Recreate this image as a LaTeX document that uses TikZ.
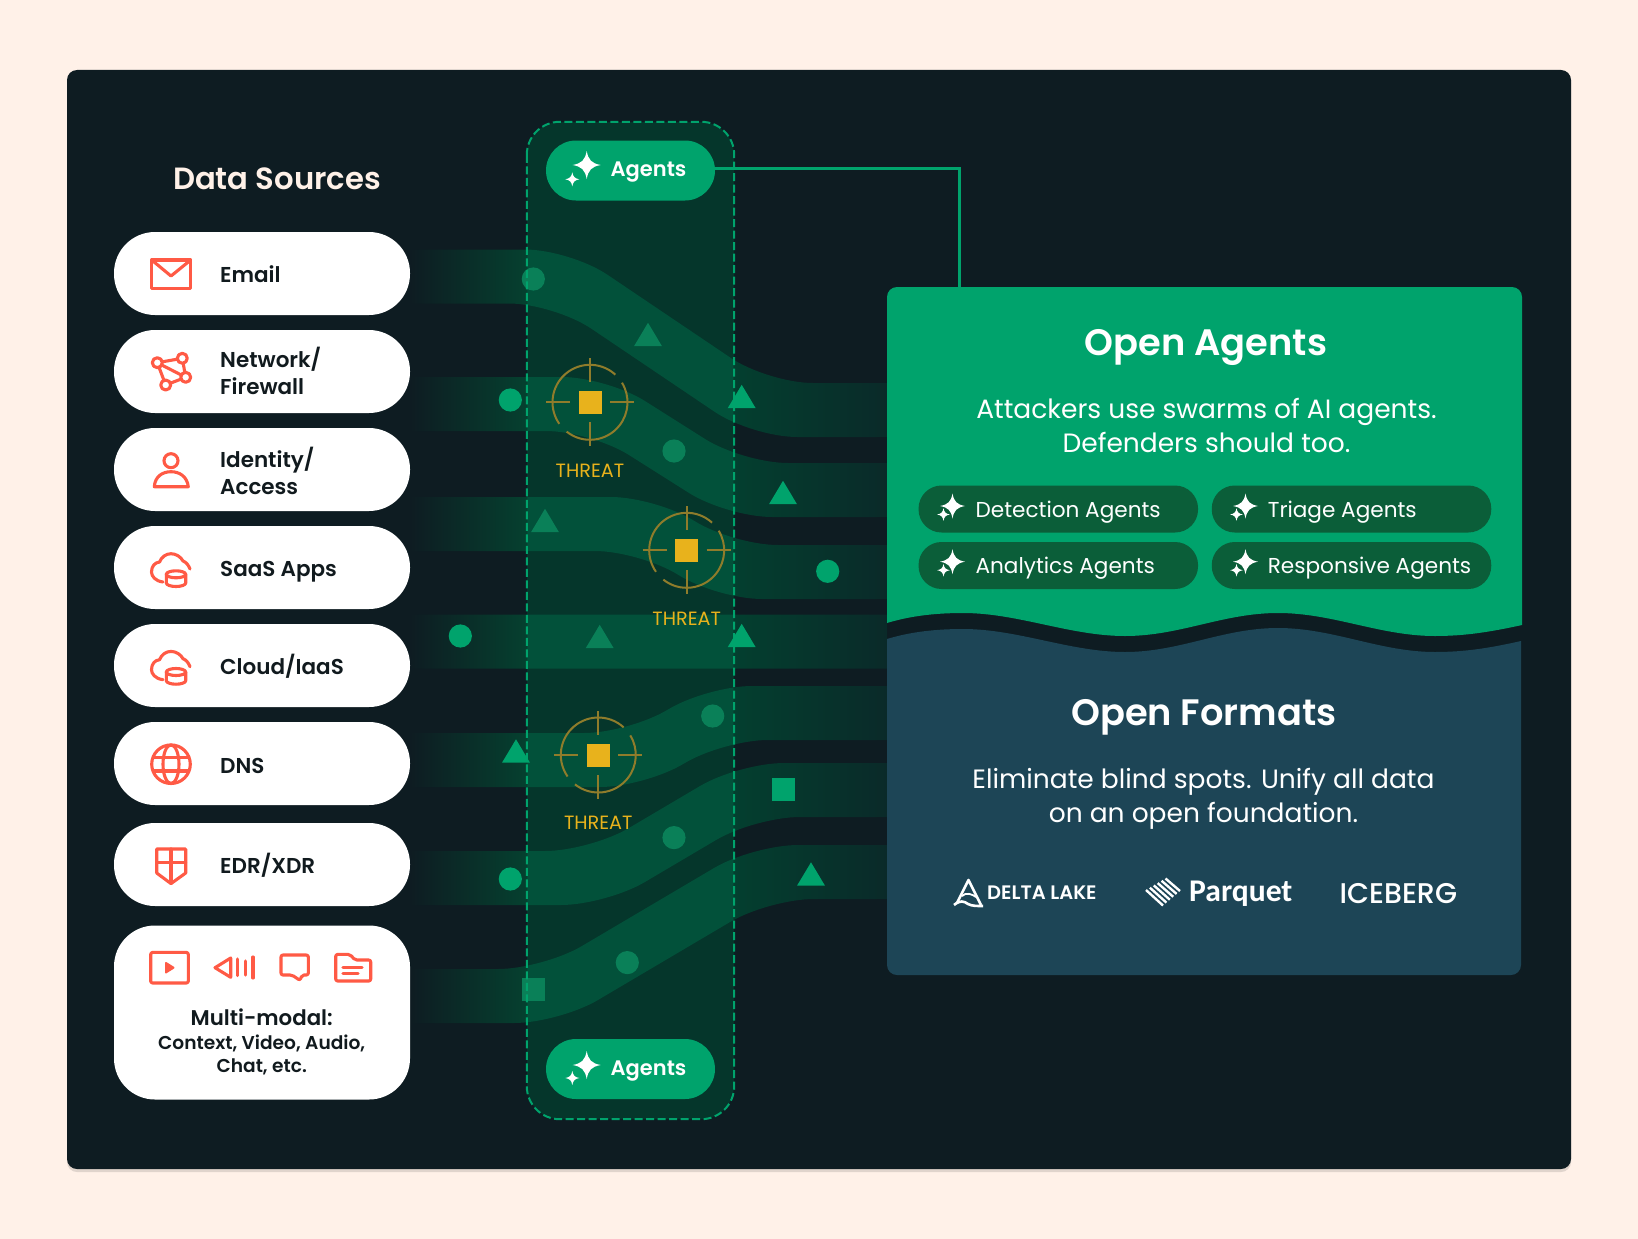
\documentclass[tikz,border=0pt]{standalone}
\usepackage{fontspec}
\usetikzlibrary{positioning,calc}
\setmainfont{Poppins}
\newfontfamily\medfont{Poppins Medium}
\newfontfamily\semifont{Poppins SemiBold}
\newfontfamily\logofont{Carlito}
\definecolor{pagebg}{HTML}{FFF1E8}
\definecolor{panelbg}{HTML}{0E1C22}
\definecolor{lanebg}{HTML}{05362B}
\definecolor{agreen}{HTML}{00A36C}
\definecolor{dimgreen}{HTML}{0A8058}
\definecolor{chipgreen}{HTML}{0B5E39}
\definecolor{deepblue}{HTML}{1D4556}
\definecolor{coral}{HTML}{FF5A45}
\definecolor{threatgold}{HTML}{E8B21C}
\definecolor{threatring}{HTML}{8F7C2B}
\definecolor{inktext}{HTML}{111A1E}
\definecolor{flowleft}{HTML}{05402F}
\definecolor{flowlane}{HTML}{02513A}
\definecolor{flowright}{HTML}{033F2F}
\definecolor{flowend}{HTML}{0A2A29}
% stops: 25bp = left end of a ribbon, 75bp = its right end
\pgfdeclarehorizontalshading{ribbonfade}{100bp}{
 color(0bp)=(panelbg); color(25bp)=(panelbg);
 color(37.2bp)=(flowleft); color(37.3bp)=(flowlane);
 color(58.8bp)=(flowlane); color(58.9bp)=(flowright);
 color(75bp)=(flowend); color(100bp)=(flowend)}
\tikzset{
 srcpill/.style={fill=white,rounded corners=41pt,minimum width=296pt,minimum height=83pt,inner sep=0pt,outer sep=0pt},
 srclabel/.style={text=inktext,align=left,inner sep=0pt,font=\semifont\fontsize{21.5}{27}\selectfont},
 agentpill/.style={fill=agreen,rounded corners=30pt,minimum width=169pt,minimum height=60pt,inner sep=0pt},
 agentchip/.style={fill=chipgreen,rounded corners=23pt,minimum width=279.5pt,minimum height=47pt,inner sep=0pt},
 chiplabel/.style={text=white,anchor=west,inner sep=0pt,font=\fontsize{21.6}{27}\selectfont},
 paneltitle/.style={text=white,inner sep=0pt,font=\semifont\fontsize{36.8}{42}\selectfont},
 panelbody/.style={text=white,align=center,inner sep=0pt,font=\fontsize{26.5}{34}\selectfont},
 threatlabel/.style={text=threatgold,inner sep=0pt,font=\fontsize{19.2}{22}\selectfont},
 threatcore/.style={fill=threatgold,minimum size=23pt,inner sep=0pt},
 iconline/.style={draw=coral,line width=3.1pt,line join=round,line cap=round},
 logoline/.style={draw=white,line width=2.6pt,line join=round},
 logotext/.style={text=white,inner sep=0pt},
 connector/.style={draw=agreen,line width=3pt}
}
% ribbon from left to right: y at the left, y at the right, start and end of the slope
\newcommand\ribbon[4]{
 \pgfmathsetmacro\ribd{#2>#1?8:(#2<#1?-8:0)}
 \shade[shading=ribbonfade,rounded corners=45pt]
  (410,{#1-27}) -- ({#3+\ribd},{#1-27}) -- ({#4+\ribd},{#2-27}) [sharp corners] -- (887,{#2-27})
  -- (887,{#2+27}) [rounded corners=45pt] -- ({#4-\ribd},{#2+27}) -- ({#3-\ribd},{#1+27}) [sharp corners] -- (410,{#1+27}) -- cycle;
}
\newcommand\dotmark[3]{\fill[#3] (#1,#2) circle[radius=11.6pt];}
\newcommand\trimark[3]{\fill[#3] (#1,{#2-11.7}) -- ({#1+14},{#2+11.7}) -- ({#1-14},{#2+11.7}) -- cycle;}
\newcommand\boxmark[3]{\fill[#3] ({#1-11.7},{#2-11.5}) rectangle ({#1+11.7},{#2+11.5});}
\newcommand\onestar[3]{\fill[white,shift={(#1,#2)},scale=#3]
 (0,-1) .. controls (.12,-.35) and (.35,-.12) .. (1,0) .. controls (.35,.12) and (.12,.35) .. (0,1)
 .. controls (-.12,.35) and (-.35,.12) .. (-1,0) .. controls (-.35,-.12) and (-.12,-.35) .. (0,-1) -- cycle;}
\newcommand\threat[4]{
 \draw[threatring,line width=2pt] (#2,#3) ++(47.5:37.5pt) arc[start angle=47.5,end angle=215,radius=37.5pt];
 \draw[threatring,line width=2pt] (#2,#3) ++(231.5:37.5pt) arc[start angle=231.5,end angle=391.5,radius=37.5pt];
 \node[threatcore] (#1) at (#2,#3) {};
 \draw[threatring,line width=2pt] ($(#1)+(-44,0)$) -- ($(#1)+(-20,0)$);
 \draw[threatring,line width=2pt] ($(#1)+(20,0)$) -- ($(#1)+(44,0)$);
 \draw[threatring,line width=2pt] ($(#1)+(0,-44)$) -- ($(#1)+(0,-20)$);
 \draw[threatring,line width=2pt] ($(#1)+(0,20)$) -- ($(#1)+(0,44)$);
 \node[threatlabel] (#1label) at (#2,#4) {THREAT};
}
\newcommand\cloudicon[1]{
 \begin{scope}[shift={(0,#1)}]
  \draw[iconline] (163,582) .. controls (155,581) and (151.5,576) .. (151.5,572) .. controls (151.5,566) and (155,562.5) .. (159.5,562)
   .. controls (161.5,557) and (166,553.7) .. (171,553.7) .. controls (176,553.7) and (181,557) .. (183,561) .. controls (186,562) and (188.5,565) .. (190,569);
  \draw[iconline,fill=white] (166.3,574.3) -- (166.3,583) arc[start angle=180,end angle=360,x radius=9.7pt,y radius=3.5pt] -- (185.7,574.3);
  \draw[iconline,fill=white] (176,574.3) ellipse[x radius=9.7pt,y radius=3.5pt];
 \end{scope}
}
\begin{document}
\begin{tikzpicture}[x=1pt,y=-1pt,node distance=15pt]
 \useasboundingbox (0,0) rectangle (1638,1239);
 \fill[pagebg] (0,0) rectangle (1638,1239);
 \fill[black!12!pagebg,rounded corners=10pt] (67,73) rectangle (1571,1172);
 \fill[panelbg,rounded corners=10pt] (67,70) rectangle (1571,1169);

 % middle lane with the flows
 \node[fill=lanebg,rounded corners=33pt,minimum width=207pt,minimum height=997pt,inner sep=0pt] (lane) at (630.5,620.5) {};
 \ribbon{276.5}{410}{562}{760}
 \ribbon{404}{490}{599}{735}
 \ribbon{524}{572}{648}{725}
 \ribbon{641.5}{641.5}{600}{700}
 \ribbon{760}{713}{637}{715}
 \ribbon{878}{790}{598}{747}
 \ribbon{996}{872}{551}{761}

 \dotmark{533.3}{279}{dimgreen}
 \trimark{648}{334.5}{dimgreen}
 \dotmark{510.3}{400}{agreen}
 \trimark{741.7}{396.5}{agreen}
 \dotmark{674}{451}{dimgreen}
 \trimark{783}{492.5}{agreen}
 \trimark{545}{520.5}{dimgreen}
 \dotmark{827.7}{571.3}{agreen}
 \dotmark{460.3}{636}{agreen}
 \trimark{599.7}{636.5}{dimgreen}
 \trimark{741.7}{635.5}{agreen}
 \dotmark{712.7}{716}{dimgreen}
 \trimark{516}{751}{agreen}
 \boxmark{783.7}{789.4}{agreen}
 \dotmark{674}{837.6}{dimgreen}
 \dotmark{510.3}{879}{agreen}
 \trimark{811}{874}{agreen}
 \dotmark{627.3}{962.6}{dimgreen}
 \boxmark{533.3}{989.5}{dimgreen}

 \draw[agreen,line width=2pt,dash pattern=on 8pt off 3.5pt,rounded corners=33pt] (lane.north west) rectangle (lane.south east);

 \threat{threatone}{590}{402.3}{471}
 \threat{threattwo}{686.7}{550.3}{619}
 \threat{threatthree}{598.3}{755}{823}

 \node[agentpill] (agentstop) at (630.5,170.5) {};
 \node[agentpill] (agentsbottom) at (630.5,1069) {};
 \onestar{586.7}{165}{14}
 \onestar{572.3}{179.3}{7}
 \onestar{586.7}{1065}{14}
 \onestar{572.3}{1078}{7}
 \node[logotext,anchor=west,font=\semifont\fontsize{21}{26}\selectfont] (agentstoplabel) at (610.5,172.5) {Agents};
 \node[logotext,anchor=west,font=\semifont\fontsize{21}{26}\selectfont] (agentsbottomlabel) at (610.5,1071) {Agents};

 % data sources
 \node[text=pagebg,inner sep=0pt,font=\semifont\fontsize{30.7}{36}\selectfont] (sourcestitle) at (277,179) {Data Sources};
 \node[srcpill] (email) at (262,273.5) {};
 \node[srcpill,below=of email] (network) {};
 \node[srcpill,below=of network] (identity) {};
 \node[srcpill,below=of identity] (saas) {};
 \node[srcpill,below=of saas] (cloud) {};
 \node[srcpill,below=of cloud] (dns) {};
 \node[srcpill,below=18pt of dns] (edr) {};
 \node[srcpill,below=19.5pt of edr,minimum height=174pt] (multimodal) {};
 \node[srclabel,right=106pt of email.west,yshift=-1pt] (emaillabel) {Email};
 \node[srclabel,right=106pt of network.west,yshift=1pt] (networklabel) {Network/\\Firewall};
 \node[srclabel,right=106pt of identity.west,yshift=-1pt] (identitylabel) {Identity/\\Access};
 \node[srclabel,right=106pt of saas.west,yshift=-4pt] (saaslabel) {SaaS Apps};
 \node[srclabel,right=106pt of cloud.west,yshift=-1pt] (cloudlabel) {Cloud/IaaS};
 \node[srclabel,right=106pt of dns.west,yshift=-2pt] (dnslabel) {DNS};
 \node[srclabel,right=106pt of edr.west,yshift=-1pt] (edrlabel) {EDR/XDR};
 \node[srclabel,align=center,font=\semifont\fontsize{21.3}{27}\selectfont] (multilabel) at (261.7,1017.5) {Multi-modal:};
 \node[srclabel,align=center,font=\semifont\fontsize{18.6}{23}\selectfont] (multisub) at (261.7,1054.5) {Context, Video, Audio,\\Chat, etc.};

 % source icons
 \draw[iconline] (151.7,260) rectangle (190.7,288.3);
 \draw[iconline] (151.7,260) -- (171,276) -- (190.7,260);
 \draw[iconline] (157.3,362.7) -- (182.3,358.3) -- (185.7,377.3) -- (165.7,385) -- cycle;
 \draw[iconline] (157.3,362.7) -- (185.7,377.3);
 \foreach \nx/\ny in {157.3/362.7,182.3/358.3,185.7/377.3,165.7/385}
  \draw[iconline,fill=white] (\nx,\ny) circle[radius=5pt];
 \draw[iconline] (171,460.7) circle[radius=7pt];
 \draw[iconline] (154.3,486.7) .. controls (155,476) and (163,471.7) .. (171,471.7) .. controls (179,471.7) and (187,476) .. (188.3,486.7) -- cycle;
 \cloudicon{0}
 \cloudicon{97.7}
 \draw[iconline] (171,764.2) circle[radius=19.3pt];
 \draw[iconline] (171,764.2) ellipse[x radius=8pt,y radius=19.3pt];
 \draw[iconline] (153.5,757.5) -- (188.5,757.5);
 \draw[iconline] (153.5,771) -- (188.5,771);
 \draw[iconline] (156.7,849) -- (185.7,849) -- (185.7,873) -- (171,883.6) -- (156.7,873) -- cycle;
 \draw[iconline] (171,849) -- (171,883);
 \draw[iconline] (156.7,862.5) -- (185.7,862.5);
 \draw[iconline,rounded corners=2pt] (150.7,952.4) rectangle (188.3,983);
 \draw[iconline,fill=coral,line width=2pt] (166,963) -- (173.5,967.7) -- (166,972.4) -- cycle;
 \draw[iconline] (215,967.7) -- (230.7,958) -- (230.7,977.3) -- cycle;
 \draw[iconline] (237.5,959) -- (237.5,975.5);
 \draw[iconline] (245.5,961) -- (245.5,975);
 \draw[iconline] (253,957) -- (253,978);
 \draw[iconline,rounded corners=2pt] (281,955) -- (308.3,955) -- (308.3,975) -- (302,975) -- (300,980.4) -- (292,975) -- (281,975) -- cycle;
 \draw[iconline,rounded corners=2pt] (335.7,981) -- (335.7,954.4) -- (350,954.4) -- (355,960) -- (370.7,960) -- (370.7,981) -- cycle;
 \draw[iconline] (343,967.7) -- (362,967.7);
 \draw[iconline] (343,973.4) -- (358,973.4);

 % right panels
 \fill[agreen] (887,623) [rounded corners=10pt] -- (887,287) -- (1522,287) [sharp corners] -- (1522,625)
  .. controls (1490,632) and (1465,636) .. (1435,636) .. controls (1380,636) and (1333,613) .. (1278,613)
  .. controls (1223,613) and (1180,636) .. (1125,636) .. controls (1070,636) and (1018,613) .. (963,613)
  .. controls (935,613) and (910,616) .. (887,623) -- cycle;
 \fill[deepblue] (887,639) .. controls (910,632) and (935,629) .. (963,629) .. controls (1018,629) and (1070,652) .. (1125,652)
  .. controls (1180,652) and (1223,628) .. (1278,628) .. controls (1333,628) and (1380,652) .. (1435,652)
  .. controls (1465,652) and (1490,648) .. (1521,641) [rounded corners=10pt] -- (1521,975) -- (887,975) [sharp corners] -- cycle;
 \coordinate (agentsboxtop) at (959,287);
 \draw[connector] (agentstop.east |- 0,168) -| (agentsboxtop);

 \node[paneltitle] (agentstitle) at (1206,347) {Open Agents};
 \node[panelbody] (agentstext) at (1206.5,425) {Attackers use swarms of AI agents.\\Defenders should too.};
 \node[agentchip] (detection) at (1058.3,509) {};
 \node[agentchip] (triage) at (1351.5,509) {};
 \node[agentchip] (analytics) at (1058.3,565.5) {};
 \node[agentchip] (responsive) at (1351.5,565.5) {};
 \foreach \cx/\cy in {952.5/506,1245.5/506,952.5/561.7,1245.5/561.7}{
  \onestar{\cx}{\cy}{12.5}
  \onestar{\cx-9}{\cy+8.5}{6.3}
 }
 \node[chiplabel] (detectionlabel) at (975.4,512) {Detection Agents};
 \node[chiplabel] (triagelabel) at (1267.6,512) {Triage Agents};
 \node[chiplabel] (analyticslabel) at (975.4,567.7) {Analytics Agents};
 \node[chiplabel] (responsivelabel) at (1267.6,567.7) {Responsive Agents};

 \node[paneltitle] (formatstitle) at (1204,717) {Open Formats};
 \node[panelbody] (formatstext) at (1203.5,798.5) {Eliminate blind spots. Unify all data\\on an open foundation.};

 % format logos
 \draw[logoline] (957,903) -- (968.5,880) -- (981,905);
 \draw[logoline] (954,905) .. controls (960,900) and (964,901) .. (968,904) .. controls (972,906) and (976,906) .. (983,906);
 \draw[logoline,line width=1.8pt] (962,896) .. controls (966,892) and (972,894) .. (976,897);
 \node[logotext,anchor=west,font=\semifont\fontsize{19.5}{22}\selectfont] (deltalabel) at (987,893) {DELTA LAKE};
 \foreach \i in {0,...,5}
  \draw[logoline,line width=2.4pt] ({1146+\i*3.9},{890-\i*2.3}) -- ({1163+\i*3.4},{905.5-\i*2.9});
 \node[logotext,anchor=west,font=\logofont\bfseries\fontsize{31.6}{36}\selectfont] (parquetlabel) at (1189,894) {Parquet};
 \node[logotext,anchor=west,font=\medfont\fontsize{28.5}{32}\selectfont] (iceberglabel) at (1339.4,894) {ICEBERG};
\end{tikzpicture}
\end{document}
